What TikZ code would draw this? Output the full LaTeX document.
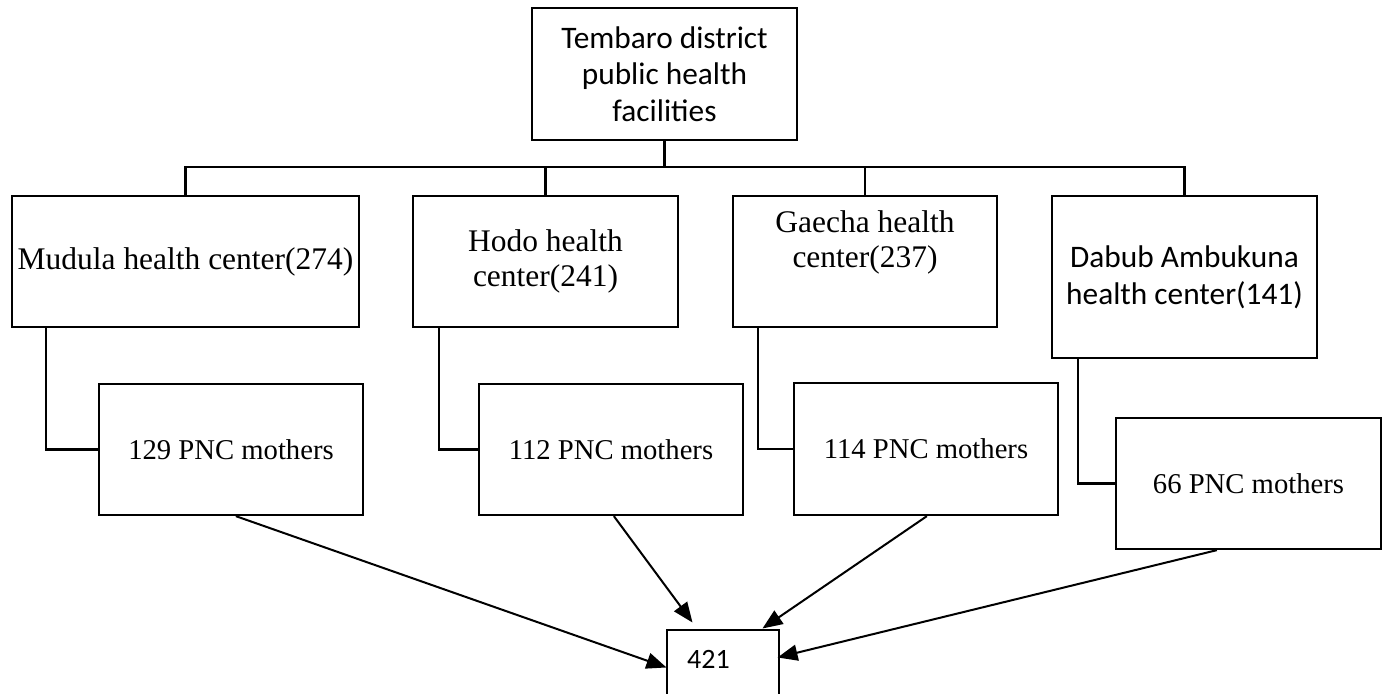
\documentclass[tikz,border=0pt]{standalone}
\usepackage{fontspec}
\setmainfont{Liberation Serif}
\newfontfamily\calfont{Carlito}
\usetikzlibrary{arrows.meta,calc}
\def\u{0.75pt}
\tikzset{
  box/.style={draw, line width=1.7pt, inner sep=0pt, align=center, rectangle},
  tnr/.style={font=\fontsize{23.6}{26.5}\selectfont},
  pnc/.style={font=\fontsize{21.5}{24}\selectfont},
  cal/.style={font=\calfont\fontsize{23.5}{27.5}\selectfont},
  link/.style={line width=1.7pt},
  arr/.style={line width=1.5pt, -{Triangle[length=15pt,width=12pt]}},
}
\begin{document}
\begin{tikzpicture}[x=0.75pt, y=-0.75pt]
\useasboundingbox (0,0) rectangle (1387,693);
\clip (0,0) rectangle (1387,693);
\fill[white] (0,0) rectangle (1387,693);

\node[box, cal, minimum width=265*\u, minimum height=132*\u] (T) at (664.5,74)
  {Tembaro district\\public health\\facilities};

\node[box, tnr, minimum width=347*\u, minimum height=131*\u] (B1) at (185.5,261.5)
  {Mudula health center(274)};
\node[box, tnr, minimum width=265*\u, minimum height=131*\u] (B2) at (545.5,261.5)
  {\raisebox{-3pt}{\parbox{180pt}{\centering Hodo health\\center(241)}}};
\node[box, minimum width=264*\u, minimum height=131*\u,
  label={[tnr, align=center, anchor=north, yshift=-8pt]north:Gaecha health\\center(237)}] (B3) at (865,261.5) {};
\node[box, cal, minimum width=265*\u, minimum height=162*\u] (B4) at (1184.5,277)
  {\raisebox{-4pt}{\parbox{190pt}{\centering Dabub Ambukuna\\health center(141)}}};

\node[box, pnc, minimum width=264*\u, minimum height=131*\u] (P1) at (231,449.5) {129 PNC mothers};
\node[box, pnc, minimum width=264*\u, minimum height=131*\u] (P2) at (611,449.5) {112 PNC mothers};
\node[box, pnc, minimum width=264*\u, minimum height=132*\u] (P3) at (926,449) {114 PNC mothers};
\node[box, pnc, minimum width=265*\u, minimum height=131*\u] (P4) at (1248.5,483.5) {66 PNC mothers};

\node[draw, line width=0.8pt, minimum width=112*\u, minimum height=100*\u, inner sep=0pt] (S) at (723,680) {};
\node[font=\calfont\fontsize{21}{24}\selectfont, inner sep=0pt] (s421) at (708.5,659) {421};

% bus
\coordinate (bus) at (0,167);
\draw[link] (T.south) -- (T.south |- bus);
\draw[link] (B1.north) -- (B1.north |- bus) -- (B4.north |- bus) -- (B4.north);
\draw[link] (B2.north) -- (B2.north |- bus);
\draw[link] (B3.north) -- (B3.north |- bus);

% side links
\draw[link] ($(B1.south west)+(35,0)$) |- (P1.west);
\draw[link] ($(B2.south west)+(27,0)$) |- (P2.west);
\draw[link] ($(B3.south west)+(26,0)$) |- (P3.west);
\draw[link] ($(B4.south west)+(27,0)$) |- (P4.west);

% arrows
\draw[arr] ($(P1.south west)+(138,0)$) -- ($(S.north west)+(0,38)$);
\draw[arr] ($(P2.south west)+(136,0)$) -- ($(S.north west)+(26,-7)$);
\draw[arr] ($(P3.south west)+(134,0)$) -- ($(S.north west)+(96,-1)$);
\draw[arr] ($(P4.south west)+(102,0)$) -- ($(S.north east)+(-2,28)$);
\end{tikzpicture}
\end{document}
